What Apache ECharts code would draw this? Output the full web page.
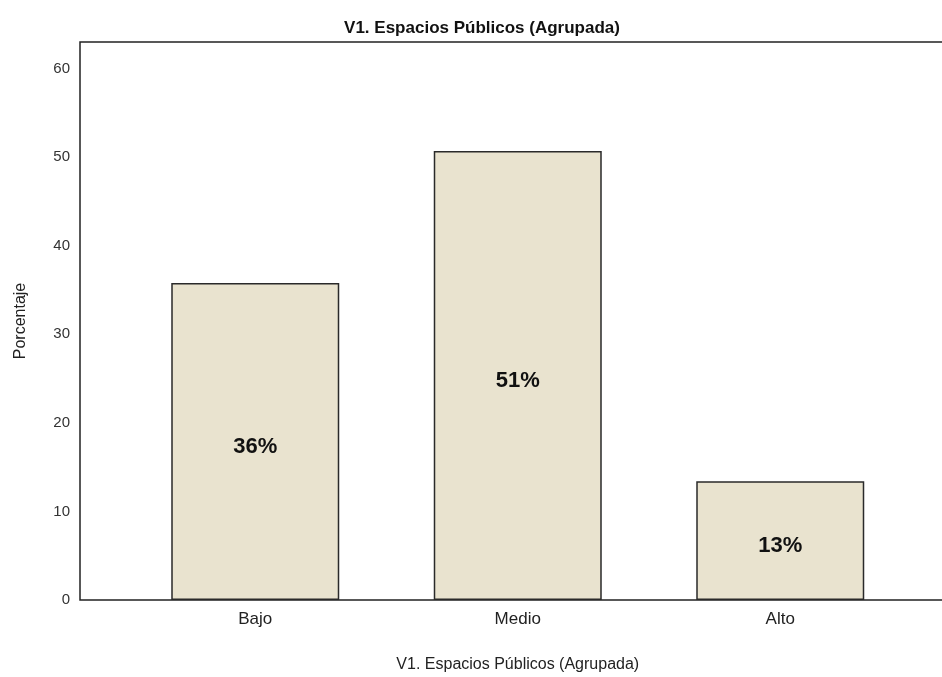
<!DOCTYPE html>
<html>
<head>
<meta charset="utf-8">
<script src="https://cdn.jsdelivr.net/npm/echarts@6/dist/echarts.min.js"></script>
<style>
  html, body { margin: 0; padding: 0; background: #fff; }
  #main { width: 942px; height: 677px; }
</style>
</head>
<body>
<div id="main"></div>
<script>
var categories = ['Bajo', 'Medio', 'Alto'];
var percentages = [35.8, 50.7, 13.4];
var yTicks = [0, 10, 20, 30, 40, 50, 60];

var chart = echarts.init(document.getElementById('main'));
var font = '"Liberation Sans", Arial, sans-serif';

chart.setOption({
  backgroundColor: '#fff',
  animation: false,
  title: {
    text: 'V1. Espacios Públicos (Agrupada)',
    left: 477,
    top: 15,
    textAlign: 'center',
    textStyle: { fontFamily: font, fontSize: 17, fontWeight: 'bold', color: '#111' }
  },
  grid: [
    // frame (left, top, bottom lines; right side pushed off-canvas)
    { left: 80, right: -4, top: 42, bottom: 77, outerBoundsMode: 'none', containLabel: false,
      show: true, borderColor: '#222', borderWidth: 1.5, backgroundColor: 'transparent' },
    // bars
    { left: 124, right: 30.5, top: 42, bottom: 77, outerBoundsMode: 'none', containLabel: false }
  ],
  xAxis: [
    { gridIndex: 0, type: 'value', min: 0, max: 1, show: false },
    {
      gridIndex: 1,
      type: 'category',
      data: categories,
      axisLine: { show: false },
      axisTick: { show: false },
      axisLabel: { fontFamily: font, fontSize: 17, color: '#222', margin: 11 },
      name: 'V1. Espacios Públicos (Agrupada)',
      nameLocation: 'middle',
      nameGap: 57,
      nameTextStyle: { fontFamily: font, fontSize: 16, color: '#222' }
    }
  ],
  yAxis: [
    {
      gridIndex: 0, type: 'value', min: 0, max: 63, interval: 10,
      axisLine: { show: false },
      axisTick: { show: false },
      splitLine: { show: false },
      axisLabel: {
        fontFamily: font, fontSize: 15, color: '#333', margin: 10,
        formatter: function (v) { return yTicks.indexOf(v) >= 0 ? String(v) : ''; }
      },
      name: 'Porcentaje',
      nameLocation: 'middle',
      nameGap: 51,
      nameTextStyle: { fontFamily: font, fontSize: 16, color: '#222' }
    },
    { gridIndex: 1, type: 'value', min: 0, max: 63, show: false }
  ],
  series: [{
    type: 'bar',
    xAxisIndex: 1,
    yAxisIndex: 1,
    data: percentages,
    barWidth: '64%',
    itemStyle: { color: '#E9E3CF', borderColor: '#2a2a2a', borderWidth: 1.5 },
    label: {
      show: true,
      position: 'inside',
      fontFamily: font,
      fontSize: 22,
      fontWeight: 'bold',
      color: '#111',
      offset: [0, 5],
      formatter: function (p) { return Math.round(p.value) + '%'; }
    }
  }]
});
</script>
</body>
</html>
